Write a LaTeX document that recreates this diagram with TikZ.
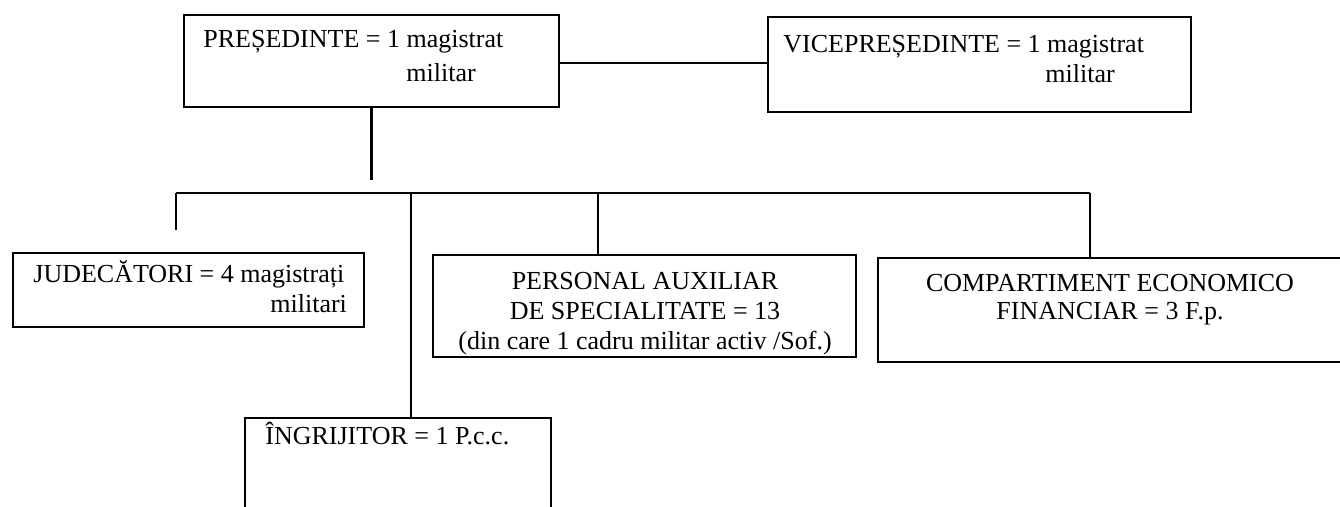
\documentclass[tikz,border=0pt]{standalone}
\usepackage{fontspec}
\setmainfont{Liberation Serif}
\begin{document}
\begin{tikzpicture}[x=0.5pt,y=-0.5pt,
  box/.style={draw, line width=1.1pt, inner sep=0pt},
  lbl/.style={inner sep=0pt, font=\fontsize{13}{16}\selectfont},
  conn/.style={line width=1.1pt}]
\useasboundingbox (0,0) rectangle (1340,507);
% boxes
\node[box, minimum width=187.5pt, minimum height=46pt] (pres) at (371.5,61) {};
\node[box, minimum width=211.5pt, minimum height=47.5pt] (vice) at (979.5,64.5) {};
\node[box, minimum width=175.5pt, minimum height=37pt] (jud) at (188.5,290) {};
\node[box, minimum width=211.5pt, minimum height=51pt] (pers) at (644.5,306) {};
\node[box, minimum width=236pt, minimum height=52pt] (comp) at (1114,310) {};
\node[box, minimum width=153pt, minimum height=48.5pt] (ingr) at (398,466.5) {};
% texts
\node[lbl, anchor=base west] (p1) at (203,48) {PREȘEDINTE = 1 magistrat};
\node[lbl, anchor=base west] (p2) at (406,82) {militar};
\node[lbl, anchor=base west] (v1) at (783,53) {VICEPREȘEDINTE = 1 magistrat};
\node[lbl, anchor=base west] (v2) at (1045,83) {militar};
\node[lbl, anchor=base west] (j1) at (33,283) {JUDECĂTORI = 4 magistrați};
\node[lbl, anchor=base west] (j2) at (270,313) {militari};
\node[lbl, anchor=base] (s1) at (645,290) {PERSONAL AUXILIAR};
\node[lbl, anchor=base] (s2) at (645,320) {DE SPECIALITATE = 13};
\node[lbl, anchor=base] (s3) at (645,350) {(din care 1 cadru militar activ /Sof.)};
\node[lbl, anchor=base] (c1) at (1110,292) {COMPARTIMENT ECONOMICO};
\node[lbl, anchor=base] (c2) at (1110,320) {FINANCIAR = 3 F.p.};
\node[lbl, anchor=base west] (i1) at (265,445) {ÎNGRIJITOR = 1 P.c.c.};
% connectors
\coordinate (hc) at (0,63);
\coordinate (pend) at (371.5,180);
\coordinate (busL) at (176,193);
\coordinate (busR) at (1090,193);
\coordinate (b2) at (411,193);
\coordinate (b3) at (598,193);
\coordinate (jd) at (176,230);
\draw[conn] (pres.east |- hc) -- (vice.west |- hc);
\draw[conn] (pres.south) -- (pend);
\draw[conn] (busL) -- (busR);
\draw[conn] (busL) -- (jd);
\draw[conn] (b2) -- (b2 |- ingr.north);
\draw[conn] (b3) -- (b3 |- pers.north);
\draw[conn] (busR) -- (busR |- comp.north);
\end{tikzpicture}
\end{document}
